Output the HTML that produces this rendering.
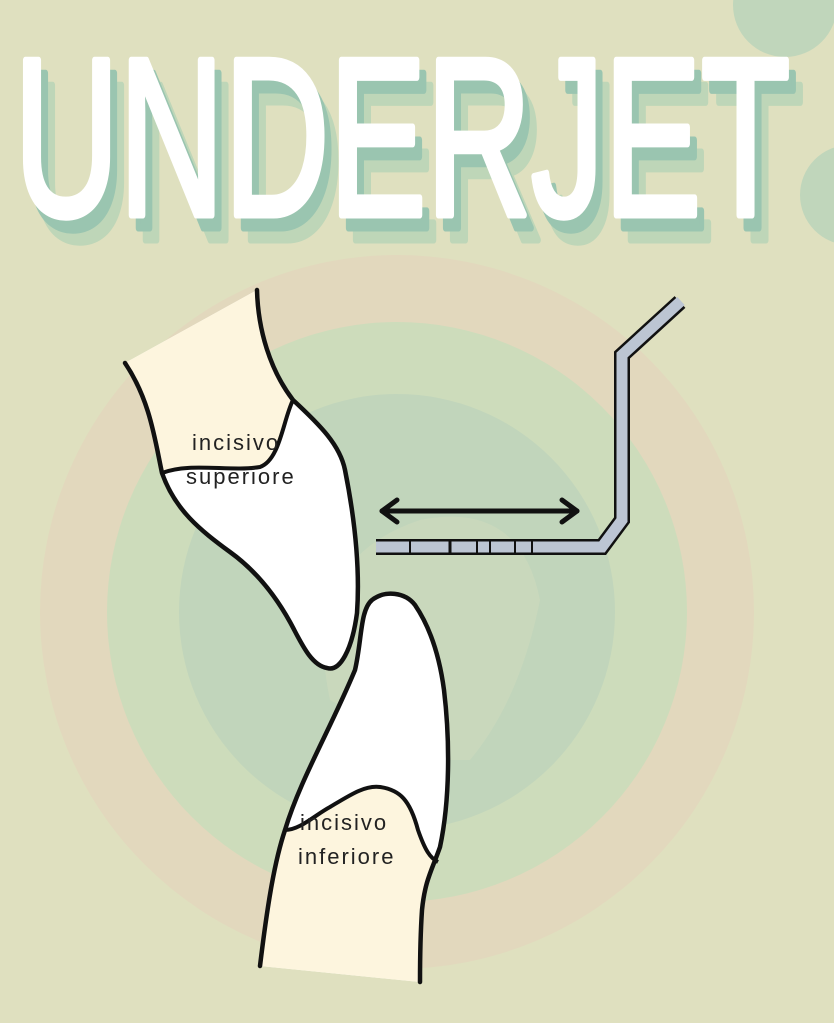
<!DOCTYPE html>
<html><head><meta charset="utf-8"><style>
html,body{margin:0;padding:0;background:#dfe0bf;}
svg{display:block}
</style></head><body>
<svg width="834" height="1023" viewBox="0 0 834 1023" xmlns="http://www.w3.org/2000/svg">
<rect width="834" height="1023" fill="#dfe0bf"/>
<circle cx="785" cy="5" r="52" fill="#c0d6bb"/>
<circle cx="850" cy="195" r="50" fill="#c0d6bb"/>
<circle cx="397" cy="612" r="357" fill="#e2d8bd"/>
<circle cx="397" cy="612" r="290" fill="#cddcbb"/>
<circle cx="397" cy="612" r="218" fill="#c1d5bb"/>
<path d="M330 700 Q300 560 420 520 Q520 500 540 600 Q520 700 470 760 L440 760 Z" fill="#d9e0c0" opacity="0.35"/>
<g font-family="Liberation Sans, sans-serif" font-weight="normal" font-size="225" stroke-linejoin="round" stroke-width="7">
<text x="28" y="240" textLength="776" lengthAdjust="spacingAndGlyphs" fill="#bed6b8" stroke="#bed6b8">UNDERJET</text>
<text x="21" y="228" textLength="776" lengthAdjust="spacingAndGlyphs" fill="#9ac5b0" stroke="#9ac5b0">UNDERJET</text>
<text x="14" y="215" textLength="776" lengthAdjust="spacingAndGlyphs" fill="#ffffff" stroke="#ffffff">UNDERJET</text>
</g>
<!-- upper tooth -->
<path d="M125 363 L257 290 C258 330 270 370 293 400 C320 425 340 445 345 470 C355 520 360 570 357 613 C352 650 340 672 327 668 C310 665 300 640 290 622 C275 595 255 570 230 552 C200 530 175 510 162 473 C155 440 150 400 125 363 Z" fill="#fff"/>
<path d="M125 363 L257 290 C258 330 270 370 293 400 C283 420 280 460 260 467 C230 472 190 462 162 473 C155 440 150 400 125 363 Z" fill="#fdf5de"/>
<path d="M125 363 C150 400 155 440 162 473 C175 510 200 530 230 552 C255 570 275 595 290 622 C300 640 310 665 327 668 C340 672 352 650 357 613 C360 570 355 520 345 470 C340 445 320 425 293 400 C270 370 258 330 257 290" fill="none" stroke="#111" stroke-width="4.5" stroke-linecap="round"/>
<path d="M162 473 C190 462 230 472 260 467 C280 460 283 420 293 400" fill="none" stroke="#111" stroke-width="4"/>
<!-- lower tooth -->
<path d="M260 966 C268 900 275 860 285 830 C300 780 330 730 355 670 C362 640 360 610 372 600 C385 590 405 592 415 605 C432 630 440 660 444 690 C450 740 450 800 440 847 C432 870 425 880 422 910 C420 940 420 960 420 982 Z" fill="#fff"/>
<path d="M260 966 C268 900 275 860 285 830 C300 830 315 815 330 807 C350 795 365 785 380 787 C400 790 410 800 418 830 C425 850 430 858 438 858 C432 870 425 880 422 910 C420 940 420 960 420 982 Z" fill="#fdf5de"/>
<path d="M260 966 C268 900 275 860 285 830 C300 780 330 730 355 670 C362 640 360 610 372 600 C385 590 405 592 415 605 C432 630 440 660 444 690 C450 740 450 800 440 847 C432 870 425 880 422 910 C420 940 420 960 420 982" fill="none" stroke="#111" stroke-width="4.5" stroke-linecap="round"/>
<path d="M285 830 C300 830 315 815 330 807 C350 795 365 785 380 787 C400 790 410 800 418 830 C425 850 430 858 438 862" fill="none" stroke="#111" stroke-width="4"/>
<g font-family="Liberation Sans, sans-serif" font-size="22" fill="#222" letter-spacing="2">
<text x="192" y="450">incisivo</text>
<text x="186" y="484">superiore</text>
<text x="300" y="830">incisivo</text>
<text x="298" y="864">inferiore</text>
</g>
<!-- probe -->
<polyline points="376,547 602,547 622,520 622,355 680,302" fill="none" stroke="#111" stroke-width="16" stroke-linejoin="miter" stroke-linecap="butt"/>
<polyline points="376,547 602,547 622,520 622,355 681,301" fill="none" stroke="#bcc5d3" stroke-width="11" stroke-linejoin="miter"/>
<g stroke="#111" stroke-width="2">
<line x1="410" y1="541" x2="410" y2="553"/><line x1="450" y1="541" x2="450" y2="553" stroke-width="3"/>
<line x1="477" y1="541" x2="477" y2="553"/><line x1="490" y1="541" x2="490" y2="553"/>
<line x1="515" y1="541" x2="515" y2="553"/><line x1="532" y1="541" x2="532" y2="553"/>
</g>
<g stroke="#111" stroke-width="5" stroke-linecap="round" fill="none" stroke-linejoin="round">
<line x1="382" y1="511" x2="577" y2="511"/>
<polyline points="397,500 382,511 397,522"/>
<polyline points="562,500 577,511 562,522"/>
</g>
</svg>
</body></html>
